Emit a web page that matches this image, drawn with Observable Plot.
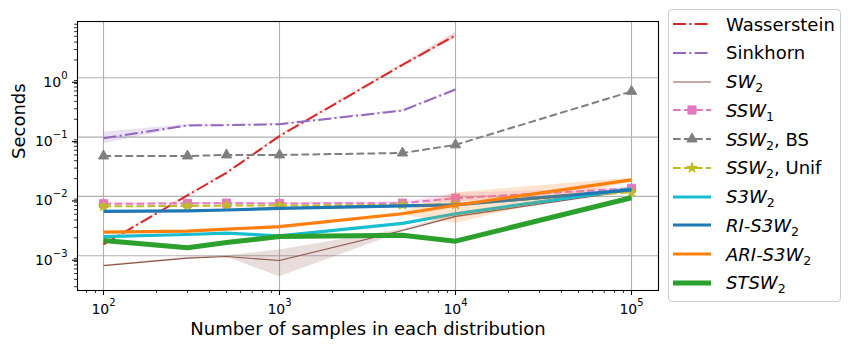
<!DOCTYPE html>
<html>
<head>
<meta charset="utf-8">
<script src="https://cdn.jsdelivr.net/npm/d3@7"></script>
<script src="https://cdn.jsdelivr.net/npm/@observablehq/plot@0.6"></script>
<style>
  body { margin: 0; background: #fff; font-family: "DejaVu Sans", sans-serif; }
  #wrap { position: relative; width: 850px; height: 352px; }
  #legend { position: absolute; left: 668px; top: 9px; width: 171px; height: 291px;
            border: 1px solid #cccccc; border-radius: 4px; background: #fff; box-sizing: content-box; }
  .row { position: absolute; left: 0; height: 24px; display: flex; align-items: center;
         font-size: 18px; white-space: nowrap; color: #000; }
  .row svg { margin-left: 4px; margin-right: 15px; }
  .it { font-style: italic; }
  .sub { font-size: 70%; position: relative; top: 0.32em; font-style: normal; }
</style>
</head>
<body>
<div id="wrap"><div id="chart"></div><div id="legend"></div></div>
<script>
// ---------- data ----------
const sampleSizes = [100, 300, 500, 1000, 5000, 10000, 100000];

const wasserstein   = [0.00155, 0.0104, 0.025, 0.104, 1.65, 5.2];
const wassersteinLo = [0.0015, 0.0101, 0.0243, 0.101, 1.58, 4.6];
const wassersteinHi = [0.0016, 0.0107, 0.0257, 0.107, 1.72, 5.8];

const sinkhorn   = [0.096, 0.157, 0.159, 0.165, 0.28, 0.635];
const sinkhornLo = [0.077, 0.151, 0.155, 0.161, 0.272, 0.62];
const sinkhornHi = [0.121, 0.163, 0.163, 0.169, 0.288, 0.65];

const sw2   = [0.00068, 0.00091, 0.00097, 0.00083, 0.00266, 0.0046, 0.0126];
const sw2Lo = [0.00066, 0.00088, 0.00095, 0.00044, 0.0025, 0.0043, 0.012];
const sw2Hi = [0.0007, 0.00094, 0.001, 0.00125, 0.0028, 0.005, 0.0132];

const ssw1   = [0.0075, 0.0076, 0.0077, 0.0076, 0.0077, 0.0093, 0.0137];
const ssw1Lo = [0.0072, 0.0073, 0.0074, 0.0073, 0.0074, 0.0080, 0.0132];
const ssw1Hi = [0.0078, 0.0079, 0.0080, 0.0079, 0.0081, 0.0112, 0.0142];

const ssw2BS   = [0.048, 0.048, 0.050, 0.050, 0.054, 0.074, 0.59];
const ssw2Unif = [0.0068, 0.0069, 0.0070, 0.0070, 0.0072, 0.0073, 0.0118];

const s3w2    = [0.0021, 0.00228, 0.0024, 0.00216, 0.0035, 0.0051, 0.0134];
const riS3w2  = [0.0056, 0.0057, 0.0059, 0.0063, 0.0069, 0.0072, 0.0129];
const ariS3w2   = [0.00249, 0.0026, 0.0028, 0.0031, 0.0051, 0.0071, 0.019];
const ariS3w2Lo = [0.00244, 0.00255, 0.00274, 0.00303, 0.0048, 0.0035, 0.0175];
const ariS3w2Hi = [0.00254, 0.00265, 0.00286, 0.00317, 0.0054, 0.0115, 0.0205];
const stsw2   = [0.0018, 0.00136, 0.00167, 0.0021, 0.00221, 0.00176, 0.0095];

const xMajorTicks = [1e2, 1e3, 1e4, 1e5];
const xMinorTicks = [80, 90, 200, 300, 400, 500, 600, 700, 800, 900,
  2000, 3000, 4000, 5000, 6000, 7000, 8000, 9000,
  20000, 30000, 40000, 50000, 60000, 70000, 80000, 90000];
const yMajorTicks = [1e-3, 1e-2, 1e-1, 1];
const yMinorTicks = [3e-4, 4e-4, 5e-4, 6e-4, 7e-4, 8e-4, 9e-4,
  2e-3, 3e-3, 4e-3, 5e-3, 6e-3, 7e-3, 8e-3, 9e-3,
  2e-2, 3e-2, 4e-2, 5e-2, 6e-2, 7e-2, 8e-2, 9e-2,
  0.2, 0.3, 0.4, 0.5, 0.6, 0.7, 0.8, 0.9, 2, 3, 4, 5, 6, 7, 8];

const xLabel = "Number of samples in each distribution";
const yLabel = "Seconds";

// ---------- styles ----------
const DASHDOT = "13,3.3,2,3.3";
const DASHED = "7.7,3.3";
const series = [
  {key: "w", label: "Wasserstein", vals: wasserstein, lo: wassersteinLo, hi: wassersteinHi, color: "#d62728", width: 2, dash: DASHDOT},
  {key: "s", label: "Sinkhorn", vals: sinkhorn, lo: sinkhornLo, hi: sinkhornHi, color: "#9467bd", width: 2, dash: DASHDOT},
  {key: "sw", label: '<span class="it">SW</span><span class="sub">2</span>', vals: sw2, lo: sw2Lo, hi: sw2Hi, color: "#8c564b", width: 1.1},
  {key: "ssw1", label: '<span class="it">SSW</span><span class="sub">1</span>', vals: ssw1, lo: ssw1Lo, hi: ssw1Hi, color: "#e377c2", width: 2, dash: DASHED, symbol: "square", r: 4.6},
  {key: "bs", label: '<span class="it">SSW</span><span class="sub">2</span>, BS', vals: ssw2BS, color: "#7f7f7f", width: 2, dash: DASHED, symbol: "triangle", r: 3.8},
  {key: "unif", label: '<span class="it">SSW</span><span class="sub">2</span>, Unif', vals: ssw2Unif, color: "#bcbd22", width: 2, dash: DASHED, symbol: "star", r: 3.2},
  {key: "s3", label: '<span class="it">S3W</span><span class="sub">2</span>', vals: s3w2, color: "#17becf", width: 3.2},
  {key: "ri", label: '<span class="it">RI-S3W</span><span class="sub">2</span>', vals: riS3w2, color: "#1f77b4", width: 3.2},
  {key: "ari", label: '<span class="it">ARI-S3W</span><span class="sub">2</span>', vals: ariS3w2, lo: ariS3w2Lo, hi: ariS3w2Hi, color: "#ff7f0e", width: 3.2},
  {key: "st", label: '<span class="it">STSW</span><span class="sub">2</span>', vals: stsw2, color: "#2ca02c", width: 5}
];

const rowsOf = s => s.vals.map((v, i) => ({N: sampleSizes[i], t: v,
  lo: s.lo ? s.lo[i] : v, hi: s.hi ? s.hi[i] : v}));

// tick label "10^k" -> rewritten below into a real superscript
const pow10 = d => "10^" + Math.round(Math.log10(d));

const marks = [
  Plot.ruleX(xMajorTicks, {stroke: "#b0b0b0", strokeWidth: 1.1}),
  Plot.ruleY(yMajorTicks, {stroke: "#b0b0b0", strokeWidth: 1.1})
];
for (const s of series) {
  const data = rowsOf(s);
  if (s.lo) marks.push(Plot.areaY(data, {x: "N", y1: "lo", y2: "hi", fill: s.color, fillOpacity: 0.2}));
  marks.push(Plot.line(data, {x: "N", y: "t", stroke: s.color, strokeWidth: s.width,
    strokeDasharray: s.dash || null, strokeLinejoin: "round", strokeLinecap: "butt"}));
  if (s.symbol) marks.push(Plot.dot(data, {x: "N", y: "t", symbol: s.symbol, r: s.r,
    fill: s.color, stroke: s.color, strokeWidth: 1}));
}
marks.push(
  Plot.frame({stroke: "black", strokeWidth: 1.1}),
  Plot.axisX({ticks: xMinorTicks, tickSize: 3, tickFormat: () => "", label: null, strokeWidth: 0.8}),
  Plot.axisX({ticks: xMajorTicks, tickSize: 5, tickPadding: 9, tickFormat: pow10, label: null, strokeWidth: 1.1}),
  Plot.axisY({ticks: yMinorTicks, tickSize: 3, tickFormat: () => "", label: null, strokeWidth: 0.8}),
  Plot.axisY({ticks: yMajorTicks, tickSize: 5, tickPadding: 5, tickFormat: pow10, label: null, strokeWidth: 1.1, dy: 4.5}),
  Plot.text([xLabel], {frameAnchor: "bottom", dy: 44, fontSize: 18}),
  Plot.text([yLabel], {frameAnchor: "left", dx: -58, dy: 3, rotate: -90, fontSize: 18})
);

const chart = Plot.plot({
  width: 850, height: 352,
  marginLeft: 77, marginRight: 192, marginTop: 21, marginBottom: 62,
  x: {type: "log", domain: [71.16, 142350]},
  y: {type: "log", domain: [0.000259, 8.9]},
  style: {fontFamily: "DejaVu Sans", fontSize: "14px", color: "black", background: "white", overflow: "visible"},
  marks
});
document.getElementById("chart").appendChild(chart);

// real superscripts for the power-of-ten tick labels
const SVGNS = "http://www.w3.org/2000/svg";
chart.querySelectorAll("text").forEach(t => {
  const m = /^10\^(-?\d+)$/.exec(t.textContent);
  if (!m) return;
  t.textContent = "";
  const base = document.createElementNS(SVGNS, "tspan");
  base.textContent = "10";
  const sup = document.createElementNS(SVGNS, "tspan");
  sup.textContent = m[1].replace("-", "\u2212");
  sup.setAttribute("dy", "-8");
  sup.setAttribute("font-size", "10px");
  t.appendChild(base);
  t.appendChild(sup);
});

// ---------- legend ----------
const legend = document.getElementById("legend");
series.forEach((s, i) => {
  const cy = 24 + 28.75 * i;             // absolute centre of the row
  const row = document.createElement("div");
  row.className = "row";
  row.style.top = (cy - 10 - 12) + "px";
  const svg = d3.create("svg").attr("width", 38).attr("height", 14);
  svg.append("line").attr("x1", 0).attr("x2", 38).attr("y1", 7).attr("y2", 7)
    .attr("stroke", s.color).attr("stroke-width", s.width)
    .attr("stroke-dasharray", s.dash || null);
  if (s.symbol) {
    const sym = {square: d3.symbolSquare, triangle: d3.symbolTriangle, star: d3.symbolStar}[s.symbol];
    svg.append("path").attr("transform", "translate(19,7)")
      .attr("d", d3.symbol(sym, Math.PI * s.r * s.r)())
      .attr("fill", s.color).attr("stroke", s.color).attr("stroke-width", 1);
  }
  row.appendChild(svg.node());
  const lab = document.createElement("span");
  lab.innerHTML = s.label;
  row.appendChild(lab);
  legend.appendChild(row);
});
</script>
</body>
</html>
